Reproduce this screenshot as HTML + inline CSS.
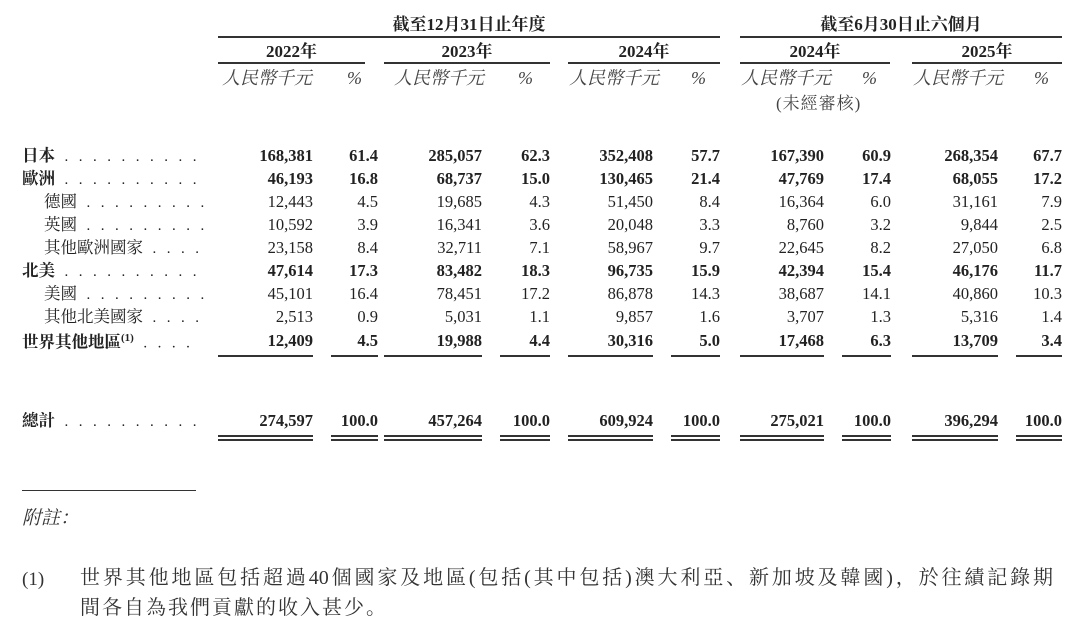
<!DOCTYPE html>
<html><head><meta charset="utf-8"><style>
body{margin:0;width:1080px;height:636px;background:#fff;position:relative;overflow:hidden;color:#222;font-family:"Liberation Serif","Noto Serif CJK SC",serif;}
.a{position:absolute;white-space:nowrap;line-height:1;}
.b{font-weight:bold;}
.r{text-align:right;}
.c{text-align:center;}
.ln{position:absolute;height:1.5px;background:#333;}
.sub{font-size:18px;color:#444;font-style:italic;}
.lab{font-size:16.5px;}
.n{font-size:16.5px;}
</style></head><body>
<div class="a b c" style="left:218px;width:502px;top:16px;font-size:17px">截至12月31日止年度</div>
<div class="a b c" style="left:740px;width:322px;top:16px;font-size:17px">截至6月30日止六個月</div>
<div class="ln" style="left:218px;width:502px;top:36px"></div>
<div class="ln" style="left:740px;width:322px;top:36px"></div>
<div class="a b c" style="left:218px;width:147px;top:43px;font-size:17px">2022年</div>
<div class="a b c" style="left:384px;width:166px;top:43px;font-size:17px">2023年</div>
<div class="a b c" style="left:568px;width:152px;top:43px;font-size:17px">2024年</div>
<div class="a b c" style="left:740px;width:150px;top:43px;font-size:17px">2024年</div>
<div class="a b c" style="left:912px;width:150px;top:43px;font-size:17px">2025年</div>
<div class="ln" style="left:218px;width:147px;top:62px"></div>
<div class="ln" style="left:384px;width:166px;top:62px"></div>
<div class="ln" style="left:568px;width:152px;top:62px"></div>
<div class="ln" style="left:740px;width:150px;top:62px"></div>
<div class="ln" style="left:912px;width:150px;top:62px"></div>
<div class="a sub" style="left:222px;top:69px">人民幣千元</div><div class="a sub" style="left:347px;top:69px">%</div>
<div class="a sub" style="left:394px;top:69px">人民幣千元</div><div class="a sub" style="left:518px;top:69px">%</div>
<div class="a sub" style="left:569px;top:69px">人民幣千元</div><div class="a sub" style="left:691px;top:69px">%</div>
<div class="a sub" style="left:741px;top:69px">人民幣千元</div><div class="a sub" style="left:862px;top:69px">%</div>
<div class="a sub" style="left:913px;top:69px">人民幣千元</div><div class="a sub" style="left:1034px;top:69px">%</div>
<div class="a" style="left:776px;top:95px;font-size:17px;color:#444;letter-spacing:1px">(未經審核)</div>

<div id="rows"></div>
<script>
const rows=[
["日本",1,0,157,"168,381","61.4","285,057","62.3","352,408","57.7","167,390","60.9","268,354","67.7"],
["歐洲",1,0,180,"46,193","16.8","68,737","15.0","130,465","21.4","47,769","17.4","68,055","17.2"],
["德國",0,1,203,"12,443","4.5","19,685","4.3","51,450","8.4","16,364","6.0","31,161","7.9"],
["英國",0,1,226,"10,592","3.9","16,341","3.6","20,048","3.3","8,760","3.2","9,844","2.5"],
["其他歐洲國家",0,1,249,"23,158","8.4","32,711","7.1","58,967","9.7","22,645","8.2","27,050","6.8"],
["北美",1,0,272,"47,614","17.3","83,482","18.3","96,735","15.9","42,394","15.4","46,176","11.7"],
["美國",0,1,295,"45,101","16.4","78,451","17.2","86,878","14.3","38,687","14.1","40,860","10.3"],
["其他北美國家",0,1,318,"2,513","0.9","5,031","1.1","9,857","1.6","3,707","1.3","5,316","1.4"],
["世界其他地區<sup style='font-size:11px'>(1)</sup>",1,0,342,"12,409","4.5","19,988","4.4","30,316","5.0","17,468","6.3","13,709","3.4"],
["總計",1,0,422,"274,597","100.0","457,264","100.0","609,924","100.0","275,021","100.0","396,294","100.0"]];
const right=[313,378,482,550,653,720,824,891,998,1062];
const segs=[[218,313],[331,378],[384,482],[500,550],[568,653],[671,720],[740,824],[842,891],[912,998],[1016,1062]];
let h="";
const dotsN={"日本":10,"歐洲":10,"德國":9,"英國":9,"其他歐洲國家":4,"北美":10,"美國":9,"其他北美國家":4,"總計":10};
rows.forEach(r=>{
 const [lab,bold,ind,y]=r;
 const x=ind?44:22;
 let nd=dotsN[lab]||4;
 let dots="&nbsp;&nbsp;"+Array(nd).fill(".").join("&nbsp;&nbsp;");
 h+=`<div class="a lab ${bold?'b':''}" style="left:${x}px;top:${y-9}px">${lab}<span style="font-weight:normal;font-size:15px;letter-spacing:1px">${dots}</span></div>`;
 for(let i=0;i<10;i++){
  h+=`<div class="a n r ${bold?'b':''}" style="left:${right[i]-100}px;width:100px;top:${y-9}px">${r[4+i]}</div>`;
 }
});
segs.forEach(s=>{
 h+=`<div class="ln" style="left:${s[0]}px;width:${s[1]-s[0]}px;top:355px"></div>`;
 h+=`<div class="ln" style="left:${s[0]}px;width:${s[1]-s[0]}px;top:435px"></div>`;
 h+=`<div class="ln" style="left:${s[0]}px;width:${s[1]-s[0]}px;top:439px"></div>`;
});
document.getElementById("rows").outerHTML=h;
</script>
<div class="ln" style="left:22px;width:174px;top:490px;height:1px"></div>
<div class="a" style="left:22px;top:509px;font-size:19px;font-style:italic;color:#333">附註：</div>
<div class="a" style="left:22px;top:570px;font-size:19px;color:#333">(1)</div>
<div style="position:absolute;left:80px;top:568px;width:973px;font-size:20px;line-height:1;color:#333;text-align:justify;text-align-last:justify;text-justify:inter-character;white-space:nowrap">世界其他地區包括超過40個國家及地區(包括(其中包括)澳大利亞、新加坡及韓國)，於往績記錄期</div>
<div class="a" style="left:80px;top:598px;font-size:20px;color:#333;letter-spacing:2px">間各自為我們貢獻的收入甚少。</div>
</body></html>
